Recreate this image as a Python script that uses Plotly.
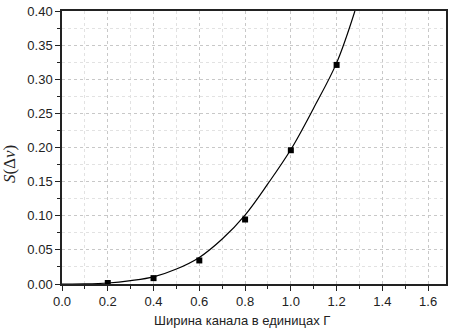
import plotly.graph_objects as go

# Measured points
pts_x = [0.2, 0.4, 0.6, 0.8, 1.0, 1.2]
pts_y = [0.0015, 0.0086, 0.0345, 0.0945, 0.196, 0.321]

# Fitted curve
fit_x = [0.0, 0.1, 0.2, 0.3, 0.4, 0.5, 0.6, 0.7, 0.8, 0.9, 1.0, 1.1, 1.2, 1.28]
fit_y = [0.0, 0.0002, 0.0015, 0.005, 0.0105, 0.022, 0.039, 0.066, 0.101, 0.147, 0.197, 0.258, 0.324, 0.40]

x_ticks = [0.0, 0.2, 0.4, 0.6, 0.8, 1.0, 1.2, 1.4, 1.6]
y_ticks = [0.00, 0.05, 0.10, 0.15, 0.20, 0.25, 0.30, 0.35, 0.40]

fig = go.Figure()
fig.add_trace(go.Scatter(x=fit_x, y=fit_y, mode="lines",
                         line=dict(color="black", width=1.2, shape="spline"),
                         showlegend=False))
fig.add_trace(go.Scatter(x=pts_x, y=pts_y, mode="markers",
                         marker=dict(symbol="square", size=6, color="black"),
                         showlegend=False))

axis_common = dict(
    showline=True, linecolor="#222", linewidth=1.5, mirror=True,
    ticks="outside", ticklen=5, tickwidth=1, tickcolor="#222",
    showgrid=True, gridcolor="#c8c8c8", griddash="dot", gridwidth=1,
    zeroline=False, ticklabeloverflow="allow",
    tickfont=dict(family="Liberation Sans, Arial", size=13, color="#222"),
)

fig.update_xaxes(range=[0, 1.678], tickvals=x_ticks,
                 ticktext=[f"{v:.1f}" for v in x_ticks],
                 minor=dict(dtick=0.1, ticks="outside", ticklen=3, tickcolor="#222",
                            showgrid=True, gridcolor="#e2e2e2", griddash="dot"),
                 **axis_common)
fig.update_yaxes(range=[0, 0.4], tickvals=y_ticks,
                 ticktext=[f"{v:.2f}" for v in y_ticks],
                 minor=dict(dtick=0.025, ticks="outside", ticklen=3, tickcolor="#222",
                            showgrid=True, gridcolor="#e2e2e2", griddash="dot"),
                 **axis_common)

fig.update_layout(
    width=452, height=331,
    margin=dict(l=62, r=4, t=6, b=47),
    plot_bgcolor="white", paper_bgcolor="white",
    annotations=[
        dict(text="Ширина канала в единицах Γ", xref="paper", yref="paper",
             x=0.47, y=-0.135, xanchor="center", yanchor="middle", showarrow=False,
             font=dict(family="Liberation Sans, Arial", size=13, color="#222")),
        dict(text="<i>S</i>(Δ<i>ν</i>)", xref="paper", yref="paper",
             x=-0.135, y=0.44, xanchor="center", yanchor="middle", showarrow=False,
             textangle=-90,
             font=dict(family="Liberation Serif, Times New Roman", size=17, color="#222")),
    ],
)

fig.write_html("out.html", config={"displayModeBar": False},
               post_script="document.body.style.margin='0';document.body.style.overflow='hidden';")
